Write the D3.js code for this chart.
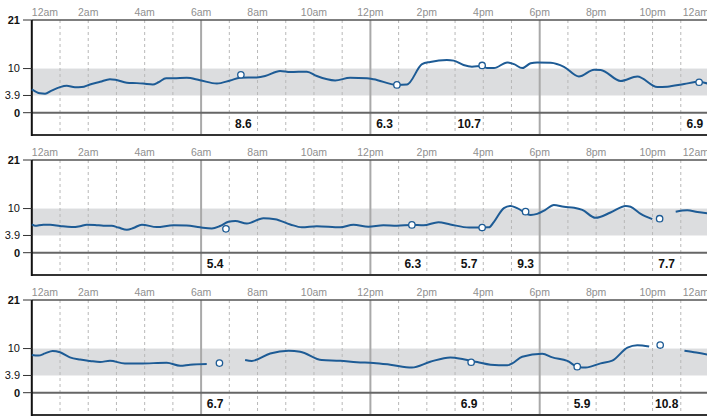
<!DOCTYPE html>
<html>
<head>
<meta charset="utf-8">
<script src="https://cdn.jsdelivr.net/npm/d3@7"></script>
<style>
  body { margin: 0; background: #fff; }
  svg { display: block; font-family: "Liberation Sans", Arial, sans-serif; }
</style>
</head>
<body>
<div id="chart"></div>
<script>
// hour labels along the top of each day
const hourTicks = [0, 2, 4, 6, 8, 10, 12, 14, 16, 18, 20, 22, 24];
const hourLabels = ["12am", "2am", "4am", "6am", "8am", "10am", "12pm", "2pm", "4pm", "6pm", "8pm", "10pm", "12am"];
const yTicks = [0, 3.9, 10, 21];
const boldTicks = [0, 21];
const targetRange = [3.9, 10];

// sensor trace per day: [hour, mmol/L], null = gap
const day1Trace = [
  [0, 5.3], [0.29, 4.4], [0.47, 4.3], [0.7, 5.0], [1.0, 5.8], [1.24, 6.1], [1.53, 5.75], [1.77, 5.8],
  [2.06, 6.4], [2.42, 7.0], [2.77, 7.6], [3.0, 7.4], [3.37, 6.8], [3.72, 6.7], [3.95, 6.6], [4.29, 6.4],
  [4.49, 6.9], [4.76, 7.8], [5.02, 7.8], [5.49, 7.9], [5.96, 7.35], [6.56, 6.6], [7.03, 7.3], [7.38, 7.9],
  [7.97, 8.0], [8.27, 8.3], [8.8, 9.45], [9.16, 9.2], [9.75, 9.3], [10.1, 8.3], [10.75, 7.3], [11.28, 7.9],
  [11.88, 7.8], [12.11, 7.6], [12.94, 6.3], [13.3, 6.4], [13.83, 11.0], [14.12, 11.5], [14.71, 11.95],
  [14.95, 11.8], [15.3, 10.8], [15.6, 10.4], [15.96, 10.6], [16.14, 10.1], [16.38, 10.1], [16.85, 11.4],
  [17.09, 11.0], [17.38, 10.1], [17.68, 11.2], [17.91, 11.4], [18.39, 11.3], [18.86, 10.4], [19.39, 8.2],
  [19.93, 9.75], [20.16, 9.7], [20.87, 7.2], [21.46, 8.2], [22.17, 5.8], [22.52, 5.9], [23.12, 6.5],
  [23.65, 7.0], [24, 6.5]
];
const day2Trace = [
  [0, 6.4], [0.11, 6.1], [0.41, 6.35], [0.65, 6.35], [1.0, 6.05], [1.41, 5.8], [1.71, 6.0], [1.95, 6.35],
  [2.24, 6.3], [2.54, 6.1], [2.83, 6.1], [3.07, 5.7], [3.37, 5.2], [3.6, 5.6], [3.9, 6.35], [4.43, 5.8],
  [5.02, 6.2], [5.49, 6.15], [5.96, 5.75], [6.38, 5.5], [6.67, 6.05], [6.97, 7.0], [7.21, 7.2],
  [7.62, 6.6], [8.21, 7.8], [8.62, 7.6], [9.16, 6.4], [9.57, 5.75], [10.1, 6.0], [10.93, 5.75],
  [11.4, 6.35], [11.93, 5.9], [12.46, 6.2], [12.94, 6.1], [13.47, 6.3], [13.88, 6.2], [14.41, 6.9],
  [14.83, 6.4], [15.5, 5.7], [16.2, 5.75], [16.38, 7.0], [16.73, 10.1], [16.97, 10.6], [17.2, 10.1],
  [17.68, 8.55], [17.91, 8.8], [18.2, 9.7], [18.5, 10.8], [18.86, 10.4], [19.22, 10.2], [19.51, 9.7],
  [19.98, 7.9], [20.51, 9.1], [21.05, 10.6], [21.22, 10.4], [21.58, 8.8], [21.99, 7.6],
  null,
  [22.82, 9.3], [23.23, 9.6], [23.59, 9.2], [24, 8.9]
];
const day3Trace = [
  [0, 8.55], [0.23, 8.4], [0.47, 8.9], [0.74, 9.45], [1.0, 9.15], [1.35, 8.0], [1.71, 7.5], [2.06, 7.2],
  [2.42, 6.95], [2.77, 7.25], [3.3, 6.6], [3.84, 6.6], [4.78, 6.8], [5.26, 6.1], [5.61, 6.35], [6.2, 6.5],
  null,
  [7.56, 7.4], [7.8, 7.2], [8.45, 8.9], [9.1, 9.5], [9.51, 9.3], [10.28, 7.4], [10.93, 7.25],
  [11.52, 6.9], [12.11, 6.75], [12.7, 6.35], [13.47, 5.7], [14.12, 7.0], [14.83, 8.0], [15.3, 7.6],
  [15.79, 6.95], [16.26, 6.35], [16.85, 6.2], [17.03, 6.65], [17.38, 8.15], [18.09, 8.8], [18.45, 8.0],
  [18.98, 7.2], [19.39, 5.75], [19.63, 5.7], [20.16, 6.65], [20.57, 7.25], [21.11, 10.2], [21.46, 10.75],
  [21.88, 10.45],
  null,
  [23.13, 9.5], [23.55, 9.1], [24, 8.55]
];

// finger-prick readings: [hour, mmol/L]
const day1Readings = [[7.41, 8.6], [12.94, 6.3], [15.96, 10.7], [23.65, 6.9]];
const day2Readings = [[6.88, 5.4], [13.47, 6.3], [15.96, 5.7], [17.5, 9.3], [22.25, 7.7]];
const day3Readings = [[6.65, 6.7], [15.57, 6.9], [19.33, 5.9], [22.27, 10.8]];

const days = [
  {trace: day1Trace, readings: day1Readings},
  {trace: day2Trace, readings: day2Readings},
  {trace: day3Trace, readings: day3Readings}
];

const width = 707, height = 416;
const panelH = 140;
const plotTop = 20, plotBottom = 135;
const blue = "#1d5b95";

const svg = d3.select("#chart").append("svg")
  .attr("width", width)
  .attr("height", height);

const x = d3.scaleLinear().domain([0, 24]).range([31.8, 709]);
const y = d3.scaleLinear().domain([0, 21]).range([112.7, plotTop]);

const line = d3.line()
  .defined(d => d !== null)
  .x(d => x(d[0]))
  .y(d => y(d[1]))
  .curve(d3.curveMonotoneX);

days.forEach((day, i) => {
  const g = svg.append("g").attr("transform", `translate(0,${i * panelH})`);

  // target band
  g.append("rect")
    .attr("x", x(0)).attr("width", width - x(0))
    .attr("y", y(targetRange[1]))
    .attr("height", y(targetRange[0]) - y(targetRange[1]))
    .attr("fill", "#dcdddf");

  // hour gridlines
  d3.range(1, 24).forEach(h => {
    const major = h % 6 === 0;
    g.append("line")
      .attr("x1", x(h)).attr("x2", x(h))
      .attr("y1", plotTop).attr("y2", plotBottom)
      .attr("stroke", major ? "#a9a9a9" : "#b8b8b8")
      .attr("stroke-width", major ? 2 : 1)
      .attr("stroke-dasharray", major ? null : "3,3");
  });

  // frame lines
  g.append("line").attr("x1", x(0)).attr("x2", width).attr("y1", plotTop).attr("y2", plotTop)
    .attr("stroke", "#555").attr("stroke-width", 1.5);
  g.append("line").attr("x1", x(0)).attr("x2", width).attr("y1", y(0)).attr("y2", y(0))
    .attr("stroke", "#666").attr("stroke-width", 2);
  g.append("line").attr("x1", x(0)).attr("x2", width).attr("y1", plotBottom).attr("y2", plotBottom)
    .attr("stroke", "#333").attr("stroke-width", 2);
  g.append("line").attr("x1", x(0)).attr("x2", x(0)).attr("y1", plotTop).attr("y2", plotBottom + 1)
    .attr("stroke", "#111").attr("stroke-width", 2);

  // y ticks
  yTicks.forEach(t => {
    g.append("line")
      .attr("x1", 23).attr("x2", x(0))
      .attr("y1", y(t)).attr("y2", y(t))
      .attr("stroke", "#333").attr("stroke-width", 1);
    g.append("text")
      .attr("x", 20).attr("y", y(t))
      .attr("dy", "0.35em")
      .attr("text-anchor", "end")
      .attr("font-size", 11)
      .attr("font-weight", boldTicks.includes(t) ? "bold" : "normal")
      .attr("fill", "#111")
      .text(t);
  });

  // hour labels
  hourTicks.forEach((h, k) => {
    g.append("text")
      .attr("x", x(h)).attr("y", 16)
      .attr("text-anchor", k === 0 ? "start" : (k === hourTicks.length - 1 ? "end" : "middle"))
      .attr("font-size", 10.5)
      .attr("fill", "#8f8f8f")
      .text(hourLabels[k]);
  });

  // sensor trace
  g.append("path")
    .datum(day.trace)
    .attr("d", line)
    .attr("fill", "none")
    .attr("stroke", blue)
    .attr("stroke-width", 2);

  // readings
  g.selectAll("circle.reading")
    .data(day.readings)
    .enter().append("circle")
    .attr("class", "reading")
    .attr("cx", d => x(d[0]))
    .attr("cy", d => y(d[1]))
    .attr("r", 3.2)
    .attr("fill", "#fff")
    .attr("stroke", blue)
    .attr("stroke-width", 1.3);

  // reading values, centred in their hour slot
  g.selectAll("text.value")
    .data(day.readings)
    .enter().append("text")
    .attr("class", "value")
    .attr("x", d => x(Math.floor(d[0]) + 0.5))
    .attr("y", (y(0) + plotBottom) / 2)
    .attr("dy", "0.35em")
    .attr("text-anchor", "middle")
    .attr("font-size", 12)
    .attr("font-weight", "bold")
    .attr("fill", "#111")
    .text(d => d[1].toFixed(1));
});
</script>
</body>
</html>
